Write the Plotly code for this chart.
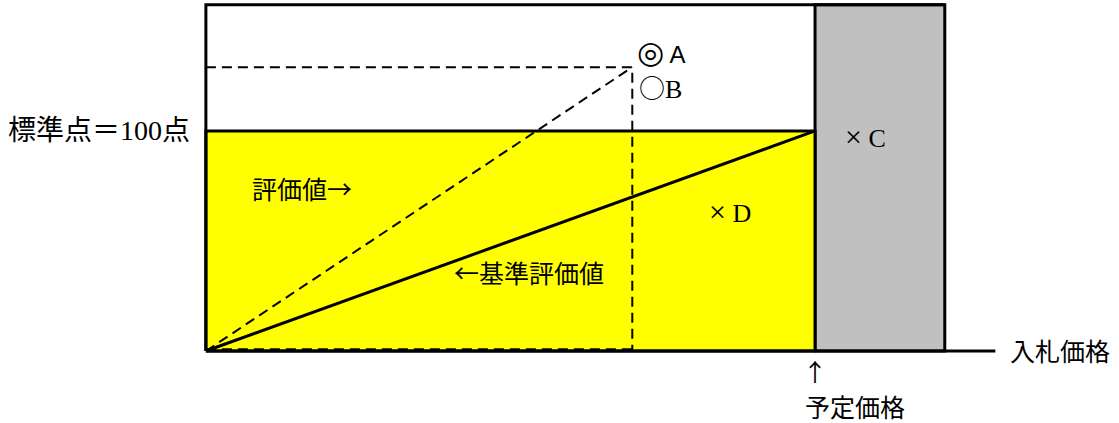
import plotly.graph_objects as go

# Diagram values (bid price vs score; planned price and standard score = 100)
PLANNED_PRICE = 100
STANDARD_SCORE = 100
BID_A_PRICE = 70
BID_A_SCORE = 129
GRAY_END = 121.3
TOP = 157.3
AXIS_END = 129.6

STANDARD_LABEL = "標準点＝100点"
X_LABEL = "入札価格"
PLANNED_LABEL = "予定価格"
EVAL_LABEL = "評価値→"
BASE_LABEL = "←基準評価値"

SERIF = "Liberation Serif, Noto Sans CJK JP"
CJK = "Noto Sans CJK JP"
BLACK = "#000000"
YELLOW = "#ffff00"
GRAY = "#c0c0c0"

fig = go.Figure()

# gray band right of planned price
fig.add_trace(go.Scatter(
    x=[PLANNED_PRICE, GRAY_END, GRAY_END, PLANNED_PRICE, PLANNED_PRICE],
    y=[0, 0, TOP, TOP, 0], mode="lines", fill="toself", fillcolor=GRAY,
    line=dict(color=BLACK, width=3), hoverinfo="skip", showlegend=False))

# yellow area below standard score
fig.add_trace(go.Scatter(
    x=[0, PLANNED_PRICE, PLANNED_PRICE, 0, 0],
    y=[0, 0, STANDARD_SCORE, STANDARD_SCORE, 0], mode="lines", fill="toself",
    fillcolor=YELLOW, line=dict(color=BLACK, width=3), hoverinfo="skip",
    showlegend=False))

# outer frame: left edge, top edge
fig.add_trace(go.Scatter(
    x=[0, 0, GRAY_END], y=[0, TOP, TOP], mode="lines",
    line=dict(color=BLACK, width=3), hoverinfo="skip", showlegend=False))

# baseline (bid price axis)
fig.add_trace(go.Scatter(
    x=[0, AXIS_END], y=[0, 0], mode="lines",
    line=dict(color=BLACK, width=3), hoverinfo="skip", showlegend=False))

# dashed: evaluation value for bid A
dash = "10px,6px"
fig.add_trace(go.Scatter(
    x=[0, BID_A_PRICE, BID_A_PRICE], y=[BID_A_SCORE, BID_A_SCORE, 0],
    mode="lines", line=dict(color=BLACK, width=2, dash=dash),
    hoverinfo="skip", showlegend=False))
fig.add_trace(go.Scatter(
    x=[0, BID_A_PRICE], y=[0, BID_A_SCORE],
    mode="lines", line=dict(color=BLACK, width=2, dash=dash),
    hoverinfo="skip", showlegend=False))
fig.add_trace(go.Scatter(
    x=[0, BID_A_PRICE], y=[0.8, 0.8],
    mode="lines", line=dict(color=BLACK, width=2, dash=dash),
    hoverinfo="skip", showlegend=False))

# solid: base evaluation value
fig.add_trace(go.Scatter(
    x=[0, PLANNED_PRICE], y=[0, STANDARD_SCORE], mode="lines",
    line=dict(color=BLACK, width=3), hoverinfo="skip", showlegend=False))


def label(x, y, text, anchor="left", family=SERIF, size=26):
    fig.add_annotation(x=x, y=y, text=text, showarrow=False, xanchor=anchor,
                       yanchor="middle", font=dict(family=family, size=size, color=BLACK))


def span(s, family, size=None):
    sz = f";font-size:{size}px" if size else ""
    return f'<span style="font-family:{family}{sz}">{s}</span>'


label(-2.2, STANDARD_SCORE, STANDARD_LABEL, "right", size=28)
label(7.2, 74, EVAL_LABEL, family=CJK, size=25)
label(40.4, 36, BASE_LABEL, family=CJK, size=25)
label(82.3, 63.6, span("×", SERIF, 30) + " D")
label(104.6, 97.3, span("×", SERIF, 30) + " C")
label(70.4, 136, span("◎", "DejaVu Sans", 31) + " A",
      family="Liberation Sans, Noto Sans CJK JP", size=24)
label(70.8, 120, span("○", CJK) + "B")
label(131.7, 0.5, X_LABEL, family=CJK, size=25)
label(PLANNED_PRICE, -9, "↑", "center", family=CJK, size=24)
label(98.0, -25, PLANNED_LABEL, family=CJK, size=25)

fig.update_layout(
    width=1119, height=423,
    margin=dict(l=0, r=0, t=0, b=0),
    paper_bgcolor="white", plot_bgcolor="white",
    xaxis=dict(range=[-33.8, 149.9], visible=False, fixedrange=True),
    yaxis=dict(range=[-32.7, 159.5], visible=False, fixedrange=True),
    showlegend=False,
)

# drop the page's default body margin so the figure sits at the window corner
fig.write_html("out.html", config={"displayModeBar": False},
               post_script="document.body.style.margin='0';")
